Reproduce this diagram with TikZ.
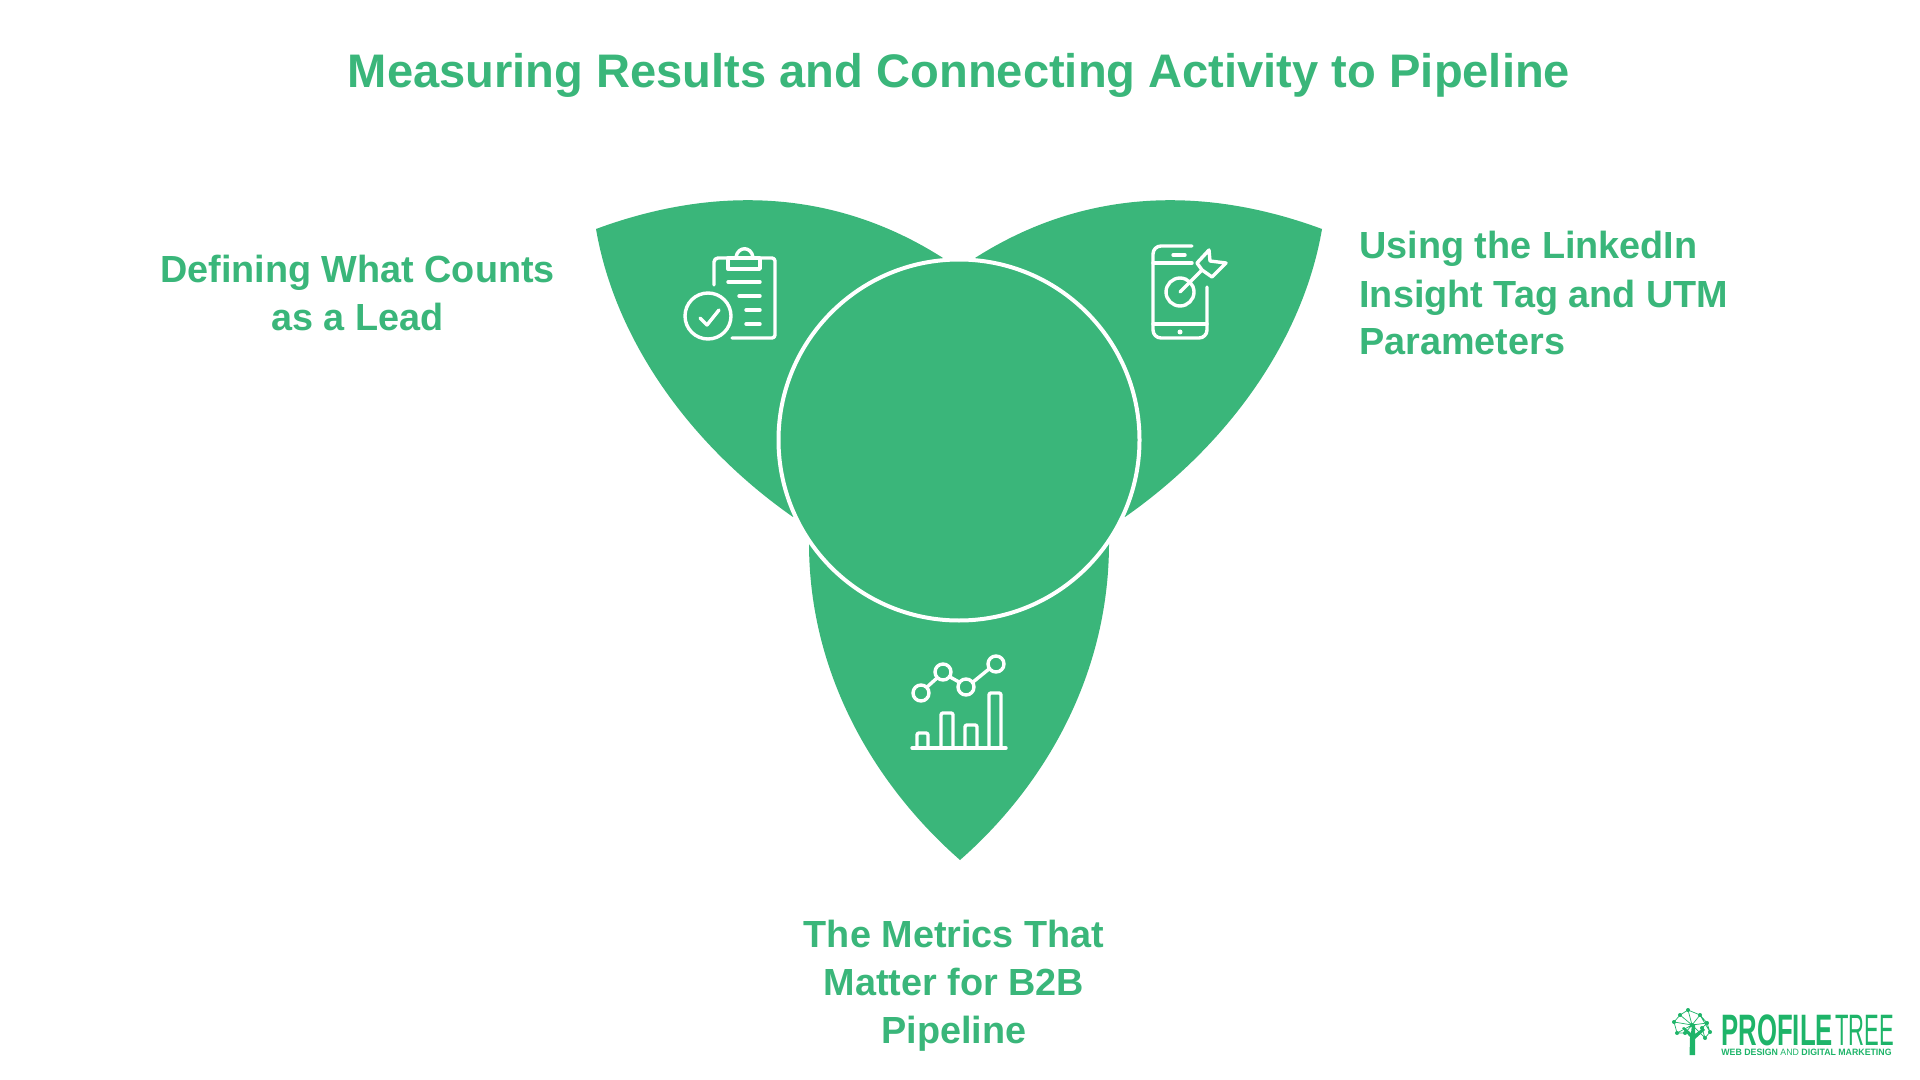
\documentclass[tikz,border=0pt]{standalone}
\usepackage{fontspec}
\setmainfont{Liberation Sans}
\newfontfamily\logofont[FakeStretch=0.585]{Liberation Sans}
\newfontfamily\logothin[FakeStretch=0.5]{Liberation Sans}
\newfontfamily\tagfont[FakeStretch=0.955]{Liberation Sans}
\definecolor{leaf}{HTML}{3AB67A}
\definecolor{brand}{HTML}{1EB469}
\tikzset{
  petal/.style={fill=leaf,draw=none},
  hub/.style={fill=leaf,draw=white,line width=2pt},
  ico/.style={draw=white,line width=1.7pt,line cap=round,line join=round},
  heading/.style={font=\fontsize{23.55}{28}\selectfont\bfseries,text=leaf,anchor=base,inner sep=0pt},
  label/.style={font=\fontsize{18.9}{24}\selectfont\bfseries,text=leaf,anchor=base,inner sep=0pt},
  logoline/.style={draw=brand,line width=.35pt},
  logodot/.style={fill=brand,draw=none},
  logotext/.style={inner sep=0pt,anchor=base west,text=brand}
}
\begin{document}
\begin{tikzpicture}[x=.5pt,y=-.5pt]
\useasboundingbox (0,0) rectangle (1920,1080);
% petals
\fill[petal] (596,229) .. controls (715,185) and (835,189) .. (943,258) -- (959,440) -- (793,517) .. controls (690,445) and (615,340) .. (596,229) -- cycle;
\fill[petal] (1322,229) .. controls (1203,185) and (1083,189) .. (975,258) -- (959,440) -- (1125,517) .. controls (1228,445) and (1303,340) .. (1322,229) -- cycle;
\fill[petal] (809,543) .. controls (809,680) and (880,790) .. (960,860) .. controls (1040,790) and (1109,680) .. (1109,543) -- (959,440) -- cycle;
% hub
\draw[hub] (959,440) circle (180.5);
% clipboard icon
\draw[ico,rounded corners=2pt] (714,285) -- (714,258) -- (728,258);
\draw[ico] (728,258) -- (728,269) -- (760,269) -- (760,258) -- cycle;
\draw[ico] (736,257) .. controls (738,246) and (751,246) .. (753,257);
\draw[ico,rounded corners=1.5pt] (760,258) -- (775,258) -- (775,338) -- (732,338);
\draw[ico] (728,282) -- (760,282) (739,296) -- (760,296) (746,310) -- (760,310) (746,324) -- (760,324);
\draw[ico] (708,316) circle (23);
\draw[ico] (700,318) -- (707,325) -- (719,310);
% phone icon
\draw[ico,rounded corners=4pt] (1192,246) -- (1153,246) -- (1153,338) -- (1207,338) -- (1207,287);
\draw[ico] (1153,263) -- (1192,263) (1153,324) -- (1207,324) (1173,255) -- (1185,255);
\fill[white] (1180,332) circle (2.5);
\draw[ico] (1180,292) circle (14);
\draw[ico] (1180,292) -- (1202,270);
\draw[ico] (1202,270) -- (1197,263) -- (1209,250) -- (1210,261) -- (1226,263) -- (1212,277) -- cycle;
% chart icon
\draw[ico] (912,748) -- (1006,748);
\draw[ico,rounded corners=1pt] (917,748) -- (917,733) -- (928,733) -- (928,748);
\draw[ico,rounded corners=1pt] (941,748) -- (941,713) -- (953,713) -- (953,748);
\draw[ico,rounded corners=1pt] (965,748) -- (965,725) -- (977,725) -- (977,748);
\draw[ico,rounded corners=1pt] (989,748) -- (989,693) -- (1001,693) -- (1001,748);
\draw[ico] (921,693) circle (8) (943,672) circle (8) (966,687) circle (8) (996,664) circle (8);
\draw[ico] (927,687) -- (937,678) (950,677) -- (959,682) (973,682) -- (989,669);
% texts
\node[heading] (title) at (959,88) {Measuring Results and Connecting Activity to Pipeline};
\node[label] (l1a) at (357.5,283) {Defining What Counts};
\node[label] (l1b) at (357.5,331) {as a Lead};
\node[label,anchor=base west] (l2a) at (1359,259) {Using the LinkedIn};
\node[label,anchor=base west] (l2b) at (1359,307) {Insight Tag and UTM};
\node[label,anchor=base west] (l2c) at (1359,355) {Parameters};
\node[label] (l3a) at (954,947) {The Metrics That};
\node[label] (l3b) at (954,995) {Matter for B2B};
\node[label] (l3c) at (954,1043) {Pipeline};
% logo
\fill[brand] (1689.5,1055) -- (1690,1037) -- (1682,1028) -- (1684,1027) -- (1691,1033) -- (1692,1024) -- (1695,1024) -- (1695,1034) -- (1703,1028) -- (1705,1030) -- (1695,1039) -- (1695,1055) -- cycle;
\draw[logoline] (1674,1022) -- (1680,1015) -- (1688,1010) -- (1700,1015) -- (1710,1032) -- (1705,1038) -- (1692,1025) -- (1677,1033) -- (1674,1022) -- (1692,1025) -- (1688,1010) (1680,1015) -- (1692,1025) -- (1700,1015) -- (1707,1023) -- (1692,1025) (1707,1023) -- (1710,1032) (1677,1033) -- (1685,1033) -- (1692,1025) (1705,1038) -- (1702,1028) -- (1707,1023);
\foreach \px/\py in {1674/1022,1680/1015,1688/1010,1700/1015,1710/1032,1705/1038,1692/1025,1677/1033,1685/1033,1702/1028,1707/1023}
  \fill[logodot] (\px,\py) circle (2);
\node[logotext,font=\logofont\bfseries\fontsize{22}{22}\selectfont] (logoa) at (1721,1045) {PROFILE};
\node[logotext,font=\logothin\fontsize{22}{22}\selectfont] (logoc) at (1835,1045) {TREE};
\node[logotext,font=\tagfont\fontsize{4.6}{5}\selectfont] (logob) at (1721,1055) {\textbf{WEB DESIGN} AND \textbf{DIGITAL MARKETING}};
\end{tikzpicture}
\end{document}
